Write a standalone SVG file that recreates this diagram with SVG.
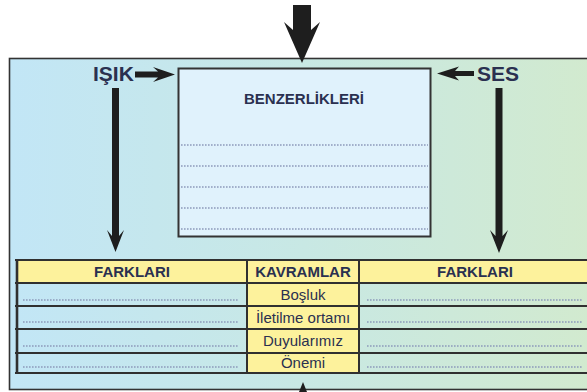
<svg xmlns="http://www.w3.org/2000/svg" width="587" height="392" viewBox="0 0 587 392">
  <defs>
    <linearGradient id="panelFill" x1="0" y1="0" x2="1" y2="0">
      <stop offset="0" stop-color="#c2e6f6"/>
      <stop offset="0.5" stop-color="#c8e8e4"/>
      <stop offset="1" stop-color="#d2eace"/>
    </linearGradient>
  </defs>
  <style>
    .txt { font-family: "Liberation Sans", Arial, sans-serif; fill: #2a3050; }
    .big { font-size: 21px; font-weight: bold; }
    .head { font-size: 15px; font-weight: bold; text-anchor: middle; }
    .cell { font-size: 15px; text-anchor: middle; }
    .arrow { fill: #1e1e1e; }
    .grid { stroke: #303030; stroke-width: 2; fill: none; }
    .dots { stroke: #8d9bbb; stroke-width: 1.3; stroke-dasharray: 1.6 1.4; fill: none; }
    .yellow { fill: #fdf29c; }
  </style>

  <rect width="587" height="392" fill="#ffffff"/>

  <!-- background panel -->
  <g id="panel">
    <rect x="9.5" y="58.5" width="590" height="331" fill="url(#panelFill)" stroke="#333" stroke-width="1.6"/>
  </g>

  <!-- similarities box -->
  <g id="benzerlikler">
    <rect x="178.5" y="68.5" width="252" height="168" fill="#e0f2fc" stroke="#333" stroke-width="2"/>
    <text class="txt head" x="304" y="104">BENZERLİKLERİ</text>
    <g class="dots">
      <line x1="181" y1="145" x2="428" y2="145"/>
      <line x1="181" y1="166" x2="428" y2="166"/>
      <line x1="181" y1="187" x2="428" y2="187"/>
      <line x1="181" y1="208" x2="428" y2="208"/>
      <line x1="181" y1="229" x2="428" y2="229"/>
    </g>
  </g>

  <g id="isik">
    <text class="txt big" x="93" y="81">IŞIK</text>
  </g>
  <g id="ses">
    <text class="txt big" x="477" y="81">SES</text>
  </g>

  <!-- comparison table -->
  <g id="tablo">
    <rect class="yellow" x="17" y="260" width="580" height="23"/>
    <rect class="yellow" x="247" y="283" width="112" height="90"/>
    <g class="grid">
      <line x1="15" y1="260" x2="590" y2="260"/>
      <line x1="15" y1="283" x2="590" y2="283"/>
      <line x1="15" y1="306" x2="590" y2="306"/>
      <line x1="15" y1="329" x2="590" y2="329"/>
      <line x1="15" y1="353" x2="590" y2="353"/>
      <line x1="15" y1="373" x2="590" y2="373"/>
      <line x1="17" y1="259" x2="17" y2="374" stroke-width="2.6"/>
      <line x1="247" y1="259" x2="247" y2="374"/>
      <line x1="359" y1="259" x2="359" y2="374"/>
    </g>
    <text class="txt head" x="132" y="277">FARKLARI</text>
    <text class="txt head" x="303" y="277">KAVRAMLAR</text>
    <text class="txt head" x="475" y="277">FARKLARI</text>
    <text class="txt cell" x="303" y="300">Boşluk</text>
    <text class="txt cell" x="303" y="323">İletilme ortamı</text>
    <text class="txt cell" x="303" y="346">Duyularımız</text>
    <text class="txt cell" x="303" y="368">Önemi</text>
    <g class="dots">
      <line x1="23" y1="300" x2="238" y2="300"/>
      <line x1="23" y1="322" x2="238" y2="322"/>
      <line x1="23" y1="346" x2="238" y2="346"/>
      <line x1="23" y1="367" x2="238" y2="367"/>
      <line x1="367" y1="300" x2="582" y2="300"/>
      <line x1="367" y1="322" x2="582" y2="322"/>
      <line x1="367" y1="346" x2="582" y2="346"/>
      <line x1="367" y1="367" x2="582" y2="367"/>
    </g>
  </g>

  <!-- arrows -->
  <g id="connectors" class="arrow">
    <polygon points="293,5 311,5 311,30 320,22 302,63 284,22 293,30"/>
    <polygon points="135,71.5 158,71.5 153,67 175,74.5 153,82 158,77.5 135,77.5"/>
    <polygon points="474,71 455,71 459,66.5 437,73.5 459,80.5 455,76 474,76"/>
    <polygon points="112,88 119,88 119,236 124,230 115.5,252 107,230 112,236"/>
    <polygon points="495.5,88 502.5,88 502.5,236 508,230 499,253 490,230 495.5,236"/>
    <polygon points="303,382 307,392 299,392"/>
  </g>
</svg>
